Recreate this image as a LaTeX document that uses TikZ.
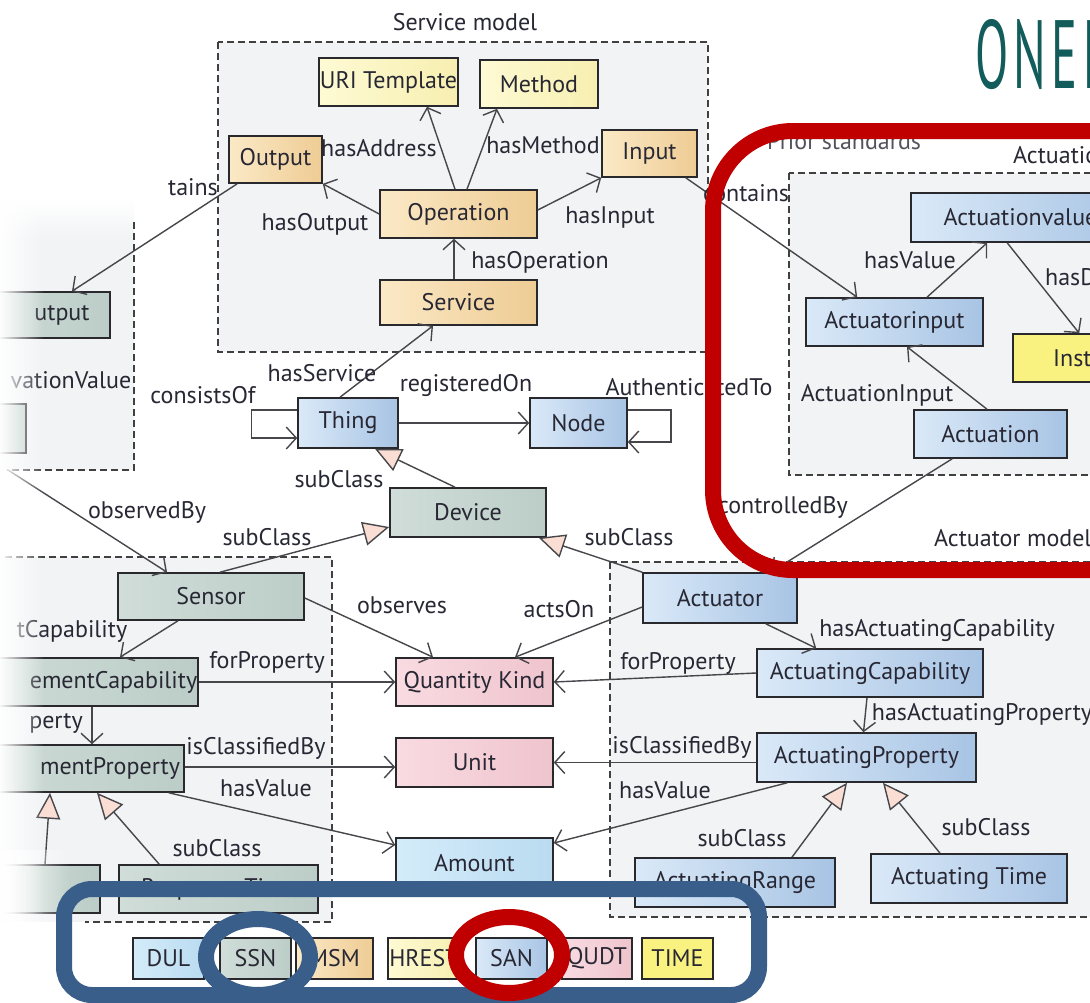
\documentclass[tikz,border=0pt]{standalone}
\usepackage{fontspec}
\setmainfont{PT Sans}
\usetikzlibrary{arrows.meta,fadings}

\definecolor{edgecol}{RGB}{70,70,75}
\definecolor{boxline}{RGB}{40,40,45}
\definecolor{txt}{RGB}{40,40,52}
\definecolor{panel}{RGB}{241,243,245}
\definecolor{ssnA}{RGB}{208,221,217}
\definecolor{ssnB}{RGB}{188,205,199}
\definecolor{sanA}{RGB}{218,233,248}
\definecolor{sanB}{RGB}{168,196,228}
\definecolor{msmA}{RGB}{251,233,198}
\definecolor{msmB}{RGB}{238,204,148}
\definecolor{hrestA}{RGB}{254,250,212}
\definecolor{hrestB}{RGB}{247,239,176}
\definecolor{qudtA}{RGB}{249,219,225}
\definecolor{qudtB}{RGB}{239,196,205}
\definecolor{dulA}{RGB}{212,236,250}
\definecolor{dulB}{RGB}{186,219,240}
\definecolor{timefill}{RGB}{250,242,128}
\definecolor{trifill}{RGB}{250,222,212}
\definecolor{hlred}{RGB}{192,0,0}
\definecolor{hlblue}{RGB}{58,94,138}
\definecolor{logo}{RGB}{18,92,92}

\begin{document}
\begin{tikzpicture}[x=1pt,y=-1pt,
  every node/.style={font=\fontsize{24}{26}\selectfont},
  box/.style={draw=boxline, line width=1.6pt, inner sep=1pt, text=txt},
  ssn/.style={box, left color=ssnA, right color=ssnB},
  san/.style={box, left color=sanA, right color=sanB},
  msm/.style={box, left color=msmA, right color=msmB},
  hrest/.style={box, left color=hrestA, right color=hrestB},
  qudt/.style={box, left color=qudtA, right color=qudtB},
  dul/.style={box, left color=dulA, right color=dulB},
  timebox/.style={box, fill=timefill},
  lab/.style={text=txt, inner sep=0pt},
  ln/.style={draw=edgecol, line width=1.4pt},
  arr/.style={ln, -{Straight Barb[length=10pt,width=22pt]}},
  sub/.style={ln, -{Triangle[length=26pt,width=24pt,fill=trifill]}},
  dashline/.style={draw=black!75, line width=1.4pt, dash pattern=on 7pt off 4pt},
  hl/.style={line width=16pt}
]
\useasboundingbox (0,0) rectangle (1090,1002);
\clip (0,0) rectangle (1090,1002);
\fill[white] (0,0) rectangle (1090,1002);

% ---- model panels ----
\fill[panel] (218,42) rectangle (708,352);
\draw[dashline] (218,42) rectangle (708,352);
\node[lab] (svctitle) at (465,22) {Service model};

\fill[panel] (-10,240) rectangle (134,470);
\fill[panel, path fading=north] (-10,200) rectangle (134,240.5);
\draw[dashline] (134,222) -- (134,470) -- (7,470);

\fill[panel] (-10,557) rectangle (332,922);
\draw[dashline] (5,557) -- (332,557) -- (332,922) -- (85,922);

\fill[panel] (789,173) rectangle (1100,475);
\draw[dashline] (789,173) rectangle (1100,475);

\fill[panel] (610,562) rectangle (1100,917);
\draw[dashline] (610,562) rectangle (1100,917);

% ---- service model ----
\node[hrest, minimum width=137pt, minimum height=48pt] (uri) at (388.5,82) {URI Template};
\node[hrest, minimum width=118pt, minimum height=48pt] (method) at (539,84) {Method};
\node[msm, minimum width=93pt, minimum height=47pt] (output) at (275.5,159.5) {Output};
\node[msm, minimum width=95pt, minimum height=47pt] (input) at (649.5,153.5) {Input};
\node[msm, minimum width=157pt, minimum height=48pt] (operation) at (458.5,214) {Operation};
\node[msm, minimum width=157pt, minimum height=45pt] (service) at (458.5,302.5) {Service};

% ---- observation side (left) ----
\node[ssn, minimum width=150pt, minimum height=46pt] (sout) at (35,315) {};
\node[lab] (souttxt) at (62,315) {utput};
\node[ssn, minimum width=66pt, minimum height=49pt] (lbox1) at (-7,428.5) {};
\node[lab] (lvalue) at (71,380) {vationValue};

% ---- core ----
\node[san, minimum width=100pt, minimum height=50pt] (thing) at (348,423) {Thing};
\node[san, minimum width=97pt, minimum height=50pt] (node) at (578.5,423) {Node};
\node[ssn, minimum width=156pt, minimum height=49pt] (device) at (468,512.5) {Device};

% ---- sensor model ----
\node[ssn, minimum width=186pt, minimum height=47pt] (sensor) at (211,596.5) {Sensor};
\node[ssn, minimum width=238pt, minimum height=48pt] (mcap) at (79,682) {};
\node[lab] (mcaptxt) at (113.5,682) {ementCapability};
\node[ssn, minimum width=224pt, minimum height=47pt] (mprop) at (72,768.5) {};
\node[lab] (mproptxt) at (110,768) {mentProperty};
\node[ssn, minimum width=199pt, minimum height=48pt] (resp) at (218.5,889) {Response Time};
\node[ssn, minimum width=140pt, minimum height=48pt] (lbox2) at (30,889) {};

% ---- shared classes ----
\node[qudt, minimum width=157pt, minimum height=48pt] (qk) at (474.5,682) {Quantity Kind};
\node[qudt, minimum width=157pt, minimum height=49pt] (unit) at (474.5,762.5) {Unit};
\node[dul, minimum width=157pt, minimum height=50pt] (amount) at (474.5,863) {Amount};

% ---- actuator model ----
\node[san, minimum width=154pt, minimum height=50pt] (actuator) at (720,598) {Actuator};
\node[san, minimum width=226pt, minimum height=48pt] (acap) at (870,673) {ActuatingCapability};
\node[san, minimum width=219pt, minimum height=49pt] (aprop) at (866.5,757.5) {ActuatingProperty};
\node[san, minimum width=200pt, minimum height=49pt] (arange) at (735,882.5) {ActuatingRange};
\node[san, minimum width=196pt, minimum height=49pt] (atime) at (969,878.5) {Actuating Time};

% ---- actuation model ----
\node[san, minimum width=219pt, minimum height=49pt] (aval) at (1020.5,217.5) {Actuationvalue};
\node[san, minimum width=177pt, minimum height=48pt] (ainput) at (894.5,322) {Actuatorinput};
\node[timebox, minimum width=117pt, minimum height=48pt] (inst) at (1071.5,358) {};
\node[lab, anchor=west] (insttxt) at (1053,358) {Inst};
\node[san, minimum width=153pt, minimum height=48pt] (actuation) at (990.5,434) {Actuation};

% ---- connectors ----
\draw[arr] ([xshift=-3.5pt]operation.north) -- ([xshift=38.5pt]uri.south);
\draw[arr] ([xshift=8.5pt]operation.north) -- ([xshift=-42pt]method.south);
\draw[arr] ([yshift=4pt]operation.east) -- (input.south west);
\draw[arr] (operation.west) -- (output.south east);
\draw[arr] ([xshift=-4.5pt]service.north) -- ([xshift=-4.5pt]operation.south);
\draw[arr] ([xshift=-8pt]thing.north) -- ([xshift=-25.5pt]service.south);
\draw[arr] ([xshift=9pt]output.south west) -- ([xshift=37pt]sout.north);
\draw[arr] ([xshift=-12pt]input.south east) -- ([xshift=52pt]ainput.north west);
\draw[arr] ([xshift=32.5pt]ainput.north) -- ([xshift=77pt]aval.south west);
\draw[arr] ([xshift=97pt]aval.south west) -- ([xshift=67pt]inst.north west);
\draw[arr] ([xshift=-3.5pt]actuation.north) -- ([xshift=12.5pt]ainput.south);
\draw[arr] ([xshift=39pt]actuation.south west) -- ([xshift=-27pt]actuator.north east);

\draw[arr] (thing.east) -- (node.west);
\draw[arr] ([yshift=13pt]thing.west) -- ++(-46,0) |- ([yshift=-15pt]thing.west);
\draw[arr] ([yshift=13pt]node.east) -- ++(43,0) |- ([yshift=-19pt]node.east);

\draw[sub] ([xshift=-13pt]device.north) -- ([xshift=27pt]thing.south);
\draw[sub] ([xshift=9pt]sensor.north) -- ([yshift=-14.5pt]device.west);
\draw[sub] (actuator.north west) -- ([xshift=-8pt]device.south east);

\coordinate (obsfrom) at (8,470);
\draw[arr] (obsfrom) -- ([xshift=-44pt]sensor.north);
\draw[arr] ([yshift=-1.5pt]sensor.east) -- ([xshift=-41.5pt]qk.north);
\draw[arr] ([yshift=-9pt]actuator.west) -- ([xshift=40.5pt]qk.north);

\draw[arr] ([xshift=-33pt]sensor.south) -- ([xshift=41pt]mcap.north);
\draw[arr] (mcap.east) -- (qk.west);
\draw[arr] ([xshift=13pt]mcap.south) -- ([xshift=20pt]mprop.north);
\draw[arr] ([yshift=1.5pt]mprop.east) -- ([yshift=1.5pt]mprop.east -| unit.west);
\draw[arr] ([xshift=-16pt]mprop.south east) -- ([yshift=18pt]amount.west);
\draw[sub] ([xshift=41pt]resp.north west) -- ([xshift=25pt]mprop.south);
\draw[sub] ([xshift=15pt]lbox2.north) -- ([xshift=-22pt]mprop.south);

\draw[arr] (acap.west) -- (qk.east);
\draw[arr] (aprop.west |- unit.east) -- (unit.east);
\draw[arr] ([xshift=31pt]aprop.south west) -- ([yshift=20pt]amount.east);
\draw[arr] ([xshift=-32pt]actuator.south east) -- ([xshift=60pt]acap.north west);
\draw[arr] ([xshift=-3pt]acap.south) -- ([xshift=-3pt]aprop.north);
\draw[sub] ([xshift=57pt]arange.north) -- ([xshift=-19.5pt]aprop.south);
\draw[sub] ([xshift=-29pt]atime.north) -- ([xshift=16.5pt]aprop.south);

% ---- connector labels ----
\node[lab] (lAddr) at (379,148) {hasAddress};
\node[lab] (lMeth) at (543,145) {hasMethod};
\node[lab] (lOut) at (315,224) {hasOutput};
\node[lab] (lIn) at (610,217) {hasInput};
\node[lab] (lOp) at (540,262) {hasOperation};
\node[lab] (lCont) at (193,187) {tains};
\node[lab] (lServ) at (322,373) {hasService};
\node[lab] (lCons) at (203,395) {consistsOf};
\node[lab] (lReg) at (466,385) {registeredOn};
\node[lab] (lAuth) at (689,387) {AuthenticatedTo};
\node[lab] (lSubT) at (339,479) {subClass};
\node[lab] (lObsBy) at (147,512) {observedBy};
\node[lab] (lSubS) at (267,537) {subClass};
\node[lab] (lSubA) at (629,537) {subClass};
\node[lab] (lObs) at (402,605) {observes};
\node[lab] (lActs) at (559,609) {actsOn};
\node[lab] (lCap) at (72,631) {tCapability};
\node[lab] (lForL) at (267,662) {forProperty};
\node[lab] (lPerty) at (56,723) {perty};
\node[lab] (lClsL) at (256,748) {isClassifiedBy};
\node[lab] (lValL) at (266,788) {hasValue};
\node[lab] (lSubR) at (217,848) {subClass};
\node[lab] (lForR) at (678,663) {forProperty};
\node[lab] (lClsR) at (682,747) {isClassifiedBy};
\node[lab] (lValR) at (665,790) {hasValue};
\node[lab] (lHAC) at (937,630) {hasActuatingCapability};
\node[lab] (lHAP) at (982,715) {hasActuatingProperty};
\node[lab] (lSubRg) at (742,838) {subClass};
\node[lab] (lSubTm) at (986,827) {subClass};
\node[lab] (lCont2) at (746,193) {contains};
\node[lab] (lVal2) at (910,260) {hasValue};
\node[lab, anchor=west] (lHasD) at (1045,277) {hasD};
\node[lab] (lActIn) at (877,395) {ActuationInput};
\node[lab, anchor=east] (lCtrl) at (848,507) {controlledBy};
\node[lab, anchor=west] (lActMod) at (934,538) {Actuator model};
\node[lab, anchor=west] (lActnMod) at (1013,155) {Actuation model};
\node[lab, anchor=base west, text=txt!80] (lPrior) at (767,149) {Prior standards};

% ---- legend ----
\node[dul, minimum width=71pt, minimum height=41pt] (gDUL) at (168.5,958.5) {DUL};
\node[ssn, minimum width=71pt, minimum height=41pt] (gSSN) at (255.5,958.5) {SSN};
\node[msm, minimum width=77pt, minimum height=41pt] (gMSM) at (334.5,958.5) {MSM};
\node[hrest, minimum width=72pt, minimum height=41pt] (gHREST) at (424,958.5) {HREST};
\node[san, minimum width=71pt, minimum height=41pt] (gSAN) at (511.5,958.5) {SAN};
\node[qudt, minimum width=70pt, minimum height=41pt] (gQUDT) at (597,958.5) {QUDT};
\node[timebox, minimum width=71pt, minimum height=41pt] (gTIME) at (677.5,958.5) {TIME};

% ---- soft left edge ----
\fill[white, path fading=east] (-2,200) rectangle (44,1002);
\fill[white, path fading=east] (-2,850) rectangle (70,1002);

% ---- highlight marks ----
\draw[hl, hlred, rounded corners=80pt] (713,131) rectangle (1240,570);
\draw[hl, hlblue, rounded corners=28pt] (64,889) rectangle (759,995);
\draw[hl, hlblue] (258,957) ellipse [x radius=52pt, y radius=38pt];
\draw[hl, hlred] (509,955) ellipse [x radius=53pt, y radius=38pt];

% ---- logo ----
\node[anchor=base west, text=logo, inner sep=0pt] (logotxt) at (975,88)
  {\fontsize{97}{97}\selectfont\scalebox{0.5}[1]{O\kern10pt N\kern12pt E\kern12pt M}};
\end{tikzpicture}
\end{document}
